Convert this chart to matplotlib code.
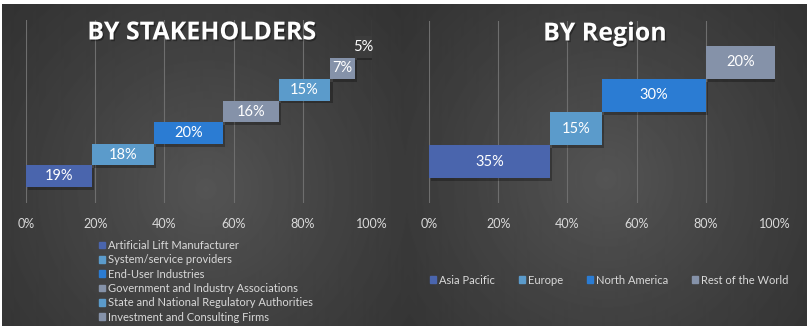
import numpy as np
import matplotlib
matplotlib.use("Agg")
import matplotlib.pyplot as plt
from matplotlib.patches import Patch
import matplotlib.patheffects as pe

# data
stake_legend = ["Artificial Lift Manufacturer", "System/service providers", "End-User Industries",
                "Government and Industry Associations", "State and National Regulatory Authorities",
                "Investment and Consulting Firms"]
stake_values = [19, 18, 20, 16, 15, 7, 5]
stake_colors = ["#4a65ad", "#5b9bcb", "#2b7cd3", "#8592a9", "#5b9bcb", "#8592a9", "#3c3c3c"]

region_labels = ["Asia Pacific", "Europe", "North America", "Rest of the World"]
region_values = [35, 15, 30, 20]
region_colors = ["#4a65ad", "#5b9bcb", "#2b7cd3", "#8592a9"]

ticks = [0, 20, 40, 60, 80, 100]
tick_labels = ["0%", "20%", "40%", "60%", "80%", "100%"]

W, H = 811, 329
fig = plt.figure(figsize=(W / 100, H / 100), dpi=100, facecolor="white")

# dark radial background
bg = fig.add_axes([2 / W, 3 / H, 804 / W, 322 / H])
bg.axis("off")
yy, xx = np.mgrid[0:322, 0:804]
r1 = np.hypot(xx - 203, yy - 185) / 300
r2 = np.hypot(xx - 603, yy - 175) / 300
t = np.clip(1 - np.minimum(r1, r2), 0, 1) ** 1.2
img = 0.19 + (0.33 - 0.19) * t
bg.imshow(img, cmap="gray", vmin=0, vmax=1, aspect="auto", interpolation="bilinear")

font = "Lato"
text_col = "#d9d9d9"
shadow = [pe.SimplePatchShadow(offset=(1.5, -2), shadow_rgbFace="black", alpha=0.28), pe.Normal()]


def panel(rect, values, colors, ylim):
    ax = fig.add_axes(rect)
    ax.set_facecolor("none")
    starts = np.concatenate([[0], np.cumsum(values)[:-1]])
    y = np.arange(len(values))
    bars = ax.barh(y, values, left=starts, height=1.0, color=colors, zorder=3)
    for b in bars:
        b.set_path_effects(shadow)
    for yi, s, v in zip(y, starts, values):
        ax.text(s + v / 2, yi, f"{v}%", ha="center", va="center", color="white",
                fontsize=10.5, family=font, zorder=4)
    ax.set_xlim(0, 100)
    ax.set_ylim(*ylim)
    ax.set_xticks(ticks)
    ax.set_xticklabels(tick_labels)
    ax.set_yticks([])
    ax.tick_params(axis="x", length=0, pad=11, labelsize=9, labelcolor=text_col)
    for lab in ax.get_xticklabels():
        lab.set_family(font)
    ax.grid(axis="x", color="#6e6e6e", lw=0.8, zorder=0)
    for s in ax.spines.values():
        s.set_visible(False)
    return ax


ax1 = panel([26 / W, (H - 203) / H, 346 / W, 183 / H], stake_values, stake_colors, (-1.24, 7.24))
ax2 = panel([429 / W, (H - 203) / H, 346 / W, 182 / H], region_values, region_colors, (-1.25, 4.25))

title_fx = [pe.withSimplePatchShadow(offset=(1, -1.2), shadow_rgbFace="black", alpha=0.35)]
fig.text(202 / W, 1 - 33 / H, "BY STAKEHOLDERS", ha="center", va="center", color="white",
         fontsize=18, fontweight="bold", family="Open Sans", path_effects=title_fx)
fig.text(605 / W, 1 - 34 / H, "BY Region", ha="center", va="center", color="white",
         fontsize=18, fontweight="bold", family="Open Sans", path_effects=title_fx)

h1 = [Patch(color=c) for c in stake_colors[:6]]
fig.legend(h1, stake_legend, loc="upper left", bbox_to_anchor=(99 / W, 1 - 240 / H),
           frameon=False, ncol=1, prop={"family": font, "size": 8}, labelcolor=text_col,
           handlelength=0.55, handleheight=0.55, handletextpad=0.3, labelspacing=0.3,
           borderpad=0, borderaxespad=0)

h2 = [Patch(color=c) for c in region_colors]
fig.legend(h2, region_labels, loc="center left", bbox_to_anchor=(430 / W, 1 - 280 / H),
           frameon=False, ncol=4, prop={"family": font, "size": 8}, labelcolor=text_col,
           handlelength=0.55, handleheight=0.55, handletextpad=0.3, columnspacing=2.1,
           borderpad=0, borderaxespad=0)

fig.savefig("out.png", dpi=100, facecolor="white")
